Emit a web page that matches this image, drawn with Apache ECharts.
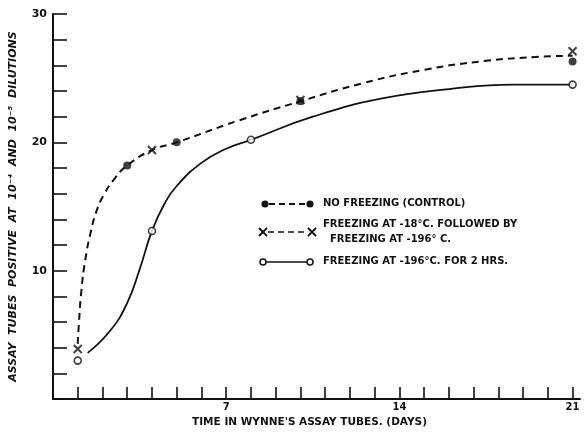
<!DOCTYPE html>
<html>
<head>
<meta charset="utf-8">
<script src="https://cdn.jsdelivr.net/npm/echarts@6/dist/echarts.min.js"></script>
<style>
  html, body { margin: 0; padding: 0; background: #fff; }
  #chart { width: 584px; height: 433px; }
</style>
</head>
<body>
<div id="chart"></div>
<script>
// marker points (day, tubes positive)
const noFreezing = [[3, 18.2], [5, 20], [10, 23.2], [21, 26.3]];
const freezing18 = [[1, 3.9], [4, 19.4], [10, 23.3], [21, 27.1]];
const freezing196 = [[1, 3], [4, 13.1], [8, 20.2], [21, 24.5]];

// hand-drawn curves, points
const dashedCurve = [
  [1, 4.3], [1.05, 6], [1.15, 8.5], [1.3, 10.8], [1.5, 12.8], [1.75, 14.6],
  [2.05, 15.9], [2.5, 17.2], [3, 18.2], [4, 19.4], [5, 20], [7.5, 21.7],
  [10, 23.2], [12.5, 24.6], [15, 25.65], [17.5, 26.35],
  [19.5, 26.65], [21, 26.75]
];
const solidCurve = [
  [1.4, 3.6], [2.3, 5.3], [3, 7.5], [3.5, 10.1], [4, 13.1], [4.5, 15.2],
  [5, 16.6], [6, 18.4], [7, 19.5], [8, 20.2], [10.5, 22.0],
  [13.25, 23.4], [16, 24.15], [18.6, 24.5], [21, 24.5]
];

const xLabels = [7, 14, 21];
const yLabels = [10, 20, 30];

const ink = '#111';
const font = 'DejaVu Sans';
const xPath = 'path://M0,0L10,10M10,0L0,10';

const chart = echarts.init(document.getElementById('chart'));

// legend drawn by hand, as in the figure
const legendText = (x, y, text) => ({
  type: 'text', left: x, top: y - 6,
  style: { text: text, font: 'bold 10px "' + font + '"', fill: ink }
});
const cross = (cx, cy) => ({
  type: 'group', children: [
    { type: 'line', shape: { x1: cx - 4, y1: cy - 4, x2: cx + 4, y2: cy + 4 }, style: { stroke: ink, lineWidth: 1.8 } },
    { type: 'line', shape: { x1: cx + 4, y1: cy - 4, x2: cx - 4, y2: cy + 4 }, style: { stroke: ink, lineWidth: 1.8 } }
  ]
});

const option = {
  backgroundColor: '#fff',
  animation: false,
  grid: { left: 51, right: 4, top: 14, bottom: 30 },
  xAxis: {
    type: 'value',
    min: 0,
    max: 21.3,
    interval: 1,
    name: "TIME IN WYNNE'S ASSAY TUBES. (DAYS)",
    nameLocation: 'middle',
    nameGap: 17,
    nameTextStyle: { color: ink, fontFamily: font, fontWeight: 'bold', fontSize: 10.5, padding: [0, 14, 0, 0] },
    axisLine: { lineStyle: { color: ink, width: 2 } },
    axisTick: { inside: true, length: 12, lineStyle: { color: ink, width: 1.6 } },
    axisLabel: {
      color: ink, fontFamily: font, fontWeight: 'bold', fontSize: 10, margin: 3,
      showMaxLabel: false,
      formatter: v => (xLabels.indexOf(v) >= 0 ? String(v) : '')
    },
    splitLine: { show: false }
  },
  yAxis: {
    type: 'value',
    min: 0,
    max: 30,
    interval: 2,
    name: 'ASSAY  TUBES  POSITIVE  AT  10\u207B\u2074  AND  10\u207B\u2075  DILUTIONS',
    nameLocation: 'middle',
    nameGap: 34,
    nameTextStyle: { color: ink, fontFamily: font, fontWeight: 'bold', fontStyle: 'italic', fontSize: 11 },
    axisLine: { lineStyle: { color: ink, width: 2 } },
    axisTick: { inside: true, length: 14, lineStyle: { color: ink, width: 1.6 } },
    axisLabel: {
      color: ink, fontFamily: font, fontWeight: 'bold', fontSize: 11, margin: 6,
      formatter: v => (yLabels.indexOf(v) >= 0 ? String(v) : '')
    },
    splitLine: { show: false }
  },
  series: [
    {
      type: 'line', data: dashedCurve, smooth: 0.5, showSymbol: false, silent: true,
      lineStyle: { color: ink, width: 2, type: [7, 5] }
    },
    {
      type: 'line', data: solidCurve, smooth: 0.5, showSymbol: false, silent: true,
      lineStyle: { color: ink, width: 1.8 }
    },
    {
      name: 'NO FREEZING (CONTROL)', type: 'scatter', data: noFreezing,
      symbol: 'circle', symbolSize: 8, itemStyle: { color: ink }, z: 3
    },
    {
      name: 'FREEZING AT -18°C. FOLLOWED BY FREEZING AT -196° C.', type: 'scatter', data: freezing18,
      symbol: xPath, symbolSize: 8,
      itemStyle: { color: 'transparent', borderColor: ink, borderWidth: 2 }, z: 4
    },
    {
      name: 'FREEZING AT -196°C. FOR 2 HRS.', type: 'scatter', data: freezing196,
      symbol: 'circle', symbolSize: 7,
      itemStyle: { color: '#fff', borderColor: ink, borderWidth: 1.6 }, z: 4
    }
  ],
  graphic: [
    { type: 'line', shape: { x1: 269, y1: 204, x2: 306, y2: 204 }, style: { stroke: ink, lineWidth: 2, lineDash: [6, 4] } },
    { type: 'circle', shape: { cx: 265, cy: 204, r: 3.6 }, style: { fill: ink } },
    { type: 'circle', shape: { cx: 310, cy: 204, r: 3.6 }, style: { fill: ink } },
    legendText(323, 204, 'NO FREEZING (CONTROL)'),

    { type: 'line', shape: { x1: 268, y1: 232, x2: 307, y2: 232 }, style: { stroke: ink, lineWidth: 1.6, lineDash: [6, 4] } },
    cross(263, 232),
    cross(312, 232),
    legendText(323, 225, 'FREEZING AT -18°C. FOLLOWED BY'),
    legendText(330, 240, 'FREEZING AT -196° C.'),

    { type: 'line', shape: { x1: 266, y1: 262, x2: 307, y2: 262 }, style: { stroke: ink, lineWidth: 1.6 } },
    { type: 'circle', shape: { cx: 263, cy: 262, r: 3 }, style: { fill: '#fff', stroke: ink, lineWidth: 1.5 } },
    { type: 'circle', shape: { cx: 310, cy: 262, r: 3 }, style: { fill: '#fff', stroke: ink, lineWidth: 1.5 } },
    legendText(323, 262, 'FREEZING AT -196°C. FOR 2 HRS.')
  ]
};

chart.setOption(option);
</script>
</body>
</html>
